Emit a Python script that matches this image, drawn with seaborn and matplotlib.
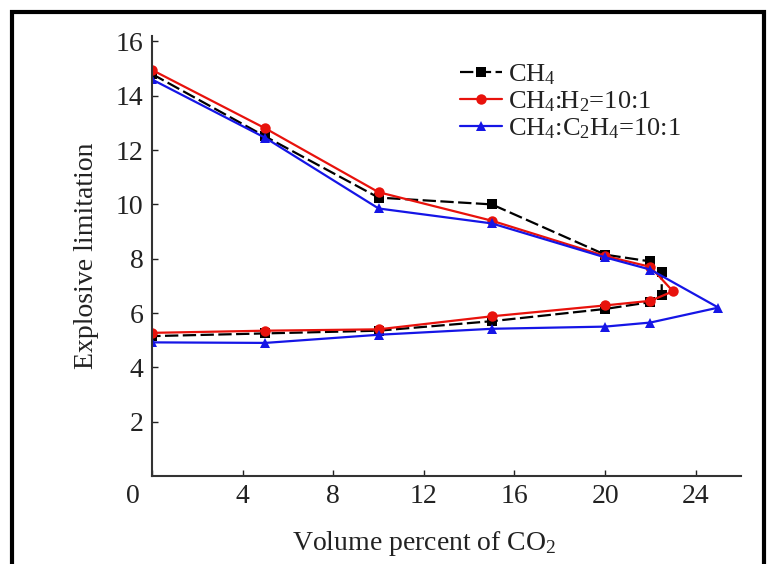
import matplotlib
matplotlib.use("Agg")
import matplotlib.pyplot as plt
import matplotlib.transforms as mtransforms
from matplotlib.patches import Rectangle
import seaborn as sns
import pandas as pd

# ---- data ----
ch4_x = [0, 5, 10, 15, 20, 22, 22.5, 22.5, 22, 20, 15, 10, 5, 0]
ch4_y = [14.8, 12.5, 10.25, 10.0, 8.15, 7.9, 7.5, 6.67, 6.4, 6.15, 5.7, 5.35, 5.25, 5.15]
h2_x = [0, 5, 10, 15, 20, 22, 23, 22, 20, 15, 10, 5, 0]
h2_y = [14.95, 12.8, 10.45, 9.4, 8.1, 7.7, 6.8, 6.45, 6.28, 5.88, 5.4, 5.35, 5.27]
c2h4_x = [0, 5, 10, 15, 20, 22, 25, 22, 20, 15, 10, 5, 0]
c2h4_y = [14.6, 12.45, 9.85, 9.3, 8.05, 7.6, 6.2, 5.65, 5.5, 5.42, 5.2, 4.9, 4.92]
series_names = ["CH$_4$", "CH$_4$:H$_2$=10:1", "CH$_4$:C$_2$H$_4$=10:1"]
x_ticks = [0, 4, 8, 12, 16, 20, 24]
y_ticks = [2, 4, 6, 8, 10, 12, 14, 16]

sns.set_style("ticks")
plt.rcParams["font.family"] = ["Liberation Serif", "DejaVu Serif"]
plt.rcParams["mathtext.fontset"] = "custom"
plt.rcParams["mathtext.rm"] = "Liberation Serif"
plt.rcParams["mathtext.it"] = "Liberation Serif:italic"
plt.rcParams["mathtext.bf"] = "Liberation Serif:bold"

fig = plt.figure(figsize=(7.75, 5.64), dpi=100)
ax = fig.add_axes([152 / 775, 1 - 476 / 564, (741 - 152) / 775, (476 - 36) / 564])

styles = [
    (ch4_x, ch4_y, "black", "s", (6, 2)),
    (h2_x, h2_y, "#e8120c", "o", None),
    (c2h4_x, c2h4_y, "#1515e6", "^", None),
]
for (xs, ys, col, mk, dash), name in zip(styles, series_names):
    df = pd.DataFrame({"x": xs, "y": ys})
    sns.lineplot(data=df, x="x", y="y", sort=False, estimator=None, ax=ax,
                 color=col, marker=mk, markersize=7.5, markeredgewidth=0,
                 linewidth=1.6, label=name)
    if dash:
        ax.lines[-1].set_dashes(dash)

ax.set_xlim(0, 26)
ax.set_ylim(0, 16.2)
ax.set_xticks(x_ticks)
ax.set_yticks(y_ticks)
ax.tick_params(direction="in", length=4, width=1, labelsize=20, colors="#222222", pad=6)
for s in ["top", "right"]:
    ax.spines[s].set_visible(False)
for s in ["left", "bottom"]:
    ax.spines[s].set_linewidth(1.5)
    ax.spines[s].set_color("#333333")

# shift the "0" x tick label left as in the reference
lbl0 = ax.get_xticklabels()[0]
lbl0.set_transform(lbl0.get_transform() + mtransforms.ScaledTranslation(-19 / 100, 0, fig.dpi_scale_trans))

ax.set_xlabel("Volume percent of CO$_2$", fontsize=20, color="#222222", labelpad=14)
ax.xaxis.label.set_x(0.463)
ax.set_ylabel("Explosive limitation", fontsize=20, color="#222222", labelpad=12)

leg = ax.legend(loc="upper left", bbox_to_anchor=(0.505, 0.965), frameon=False, fontsize=19,
                handlelength=1.6, handletextpad=0.2, labelspacing=0.1, borderaxespad=0)
for t in leg.get_texts():
    t.set_color("#222222")

# outer black frame
fig.add_artist(Rectangle((11.5 / 775, -0.05), (764 - 11.5) / 775, 1.05 - 11.5 / 564,
                         transform=fig.transFigure, fill=False, edgecolor="black", linewidth=3))

fig.savefig("out.png", dpi=100)
